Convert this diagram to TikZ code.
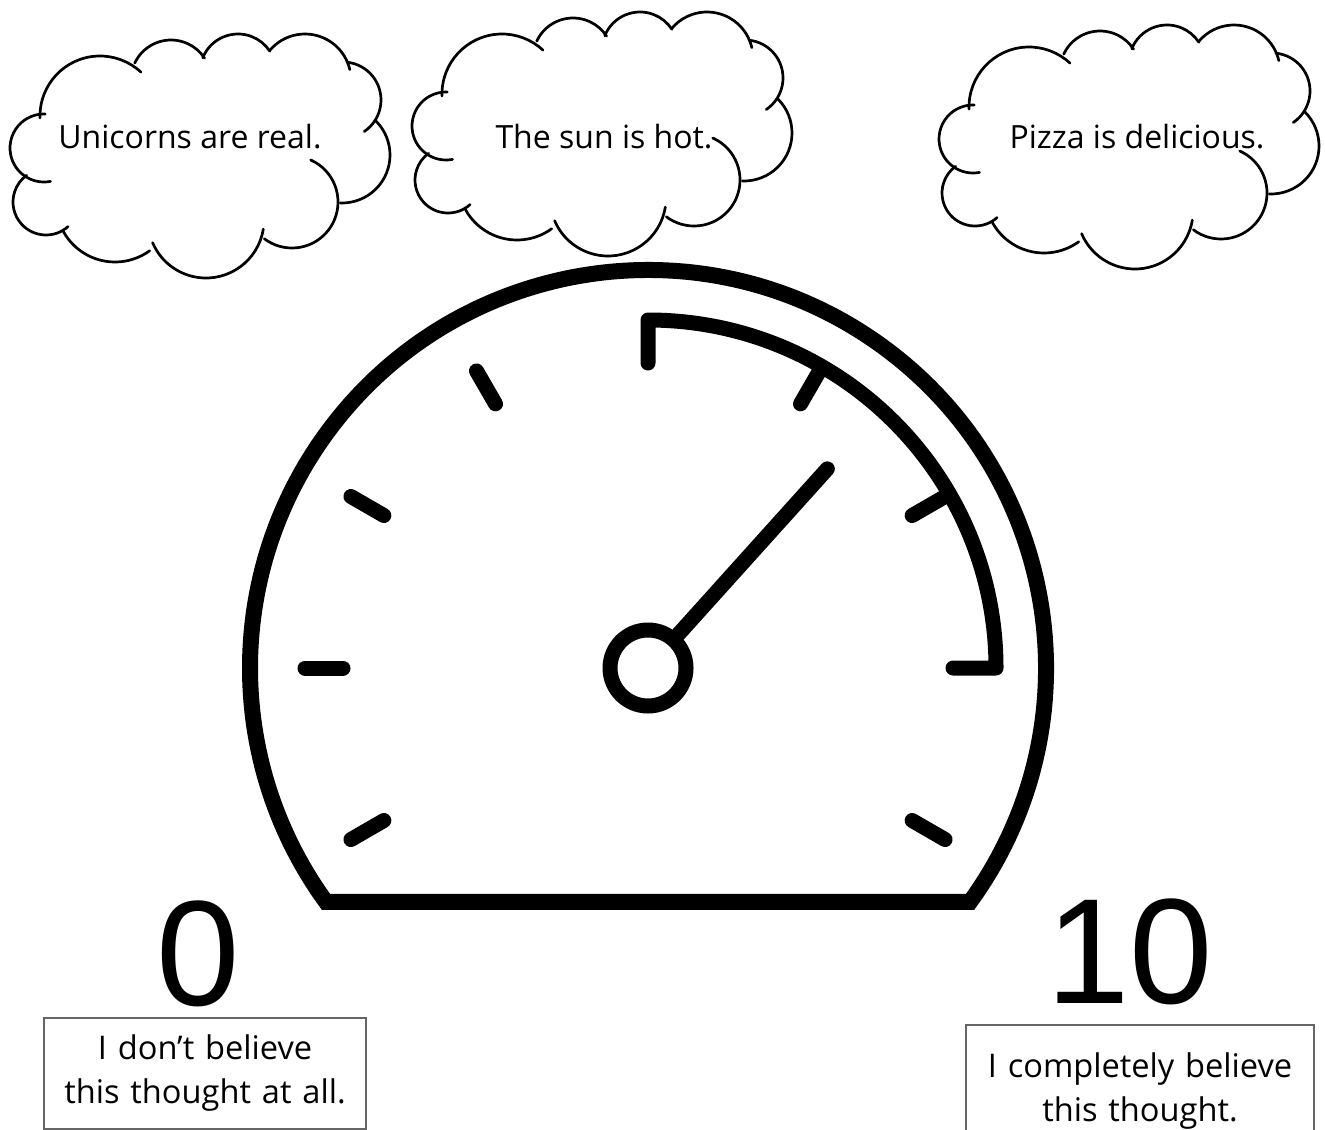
\documentclass[tikz,border=0pt]{standalone}
\usepackage{fontspec}
\setmainfont{Open Sans}
\newfontfamily\numfont{Liberation Sans}
\usetikzlibrary{positioning}
\tikzset{
  cloudline/.style={line width=1.35pt, line cap=round},
  cloudtext/.style={font=\fontsize{16}{20}\selectfont, anchor=base, inner sep=0pt},
  scalenum/.style={font=\numfont\fontsize{75}{80}\selectfont, anchor=base, inner sep=0pt},
  beliefbox/.style={draw=black!60, line width=0.8pt, align=center, anchor=north,
    font=\fontsize{16.3}{22}\selectfont, inner xsep=0pt},
  dialline/.style={line width=7.5pt, line cap=round},
  hub/.style={circle, draw, line width=7.5pt, inner sep=0pt, minimum size=38pt},
  pics/thoughtcloud/.style={code={
    % one arc per puff: centre x / centre y / radius / from / to
    \foreach \cx/\cy/\r/\a/\b in {100/116/60/182/47, 171/80/40/155/33, 238/72/38/158/33,
        305/80/46/139/13, 343/100/38/84/-56, 342/155/48/45/-92, 292/202/46/66/-127,
        206/220/58/-9/-157, 115/203/59/-54/-151, 46/202/33/-48/-234, 44/148/34/-79/-272}
      \draw[cloudline] (\cx,-\cy) ++(\a:\r) arc[start angle=\a, end angle=\b, radius=\r];
  }}
}

\begin{document}
\begin{tikzpicture}[x=0.5pt, y=0.5pt]
\useasboundingbox (0,0) rectangle (1325,-1129);

% thought clouds
\pic at (0,0) {thoughtcloud};
\pic at (402,22) {thoughtcloud};
\pic at (929,9) {thoughtcloud};
\node[cloudtext] (unicorns) at (190,-148) {Unicorns are real.};
\node[cloudtext] (sun) at (604,-148) {The sun is hot.};
\node[cloudtext] (pizza) at (1137,-148) {Pizza is delicious.};

% dial
\begin{scope}[shift={(648,-668)}]
  \draw[line width=8pt] (-36:398) arc[start angle=-36, end angle=216, radius=398] -- cycle;
  \foreach \ang in {-30,30,60,120,150,180,210}
    \draw[dialline] (\ang:305) -- (\ang:343);
  \draw[dialline, line join=round] (90:305) -- (90:348)
    arc[start angle=90, end angle=0, radius=348] -- (0:305);
  \node[hub] (hub) at (0,0) {};
  \coordinate (tip) at (48:268);
  \draw[dialline] (hub) -- (tip);
\end{scope}

% scale ends
\node[scalenum] (zero) at (198,-1005) {0};
\node[scalenum] (ten) at (1130,-1003) {10};
\node[beliefbox, text width=161pt, minimum height=55.5pt] (lowbox) at (205,-1017)
  {I don’t believe\\this thought at all.};
\node[beliefbox, text width=174pt, minimum height=66pt] (highbox) at (1140,-1024)
  {I completely believe\\this thought.};

\end{tikzpicture}
\end{document}
